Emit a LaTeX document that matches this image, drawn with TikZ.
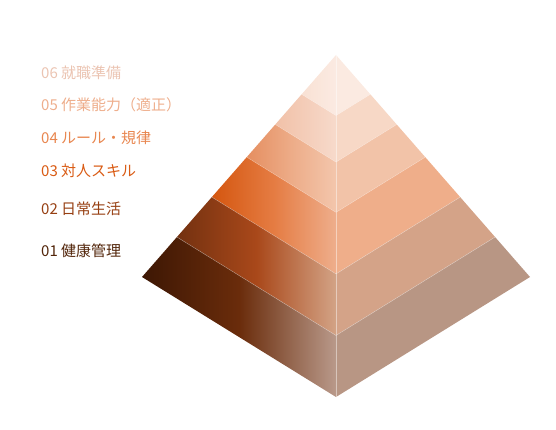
\documentclass[tikz,border=0pt]{standalone}
\usepackage{fontspec}
\newfontfamily\jpfont{Noto Sans CJK JP}
\usepackage{xcolor}
\usetikzlibrary{calc}

\definecolor{edgeA}{HTML}{3D1704}\definecolor{midA}{HTML}{6A2C0B}\definecolor{ctrA}{HTML}{B9998A}\definecolor{sideA}{HTML}{B89684}
\definecolor{edgeB}{HTML}{733110}\definecolor{midB}{HTML}{A9481A}\definecolor{ctrB}{HTML}{D3A386}\definecolor{sideB}{HTML}{D4A388}
\definecolor{edgeC}{HTML}{D4560F}\definecolor{midC}{HTML}{E57C43}\definecolor{ctrC}{HTML}{EEAE8C}\definecolor{sideC}{HTML}{EFAE8A}
\definecolor{edgeD}{HTML}{E58E60}\definecolor{midD}{HTML}{EDAC88}\definecolor{ctrD}{HTML}{F3C6AC}\definecolor{sideD}{HTML}{F2C3A8}
\definecolor{edgeE}{HTML}{F1C1A8}\definecolor{midE}{HTML}{F4CDB9}\definecolor{ctrE}{HTML}{F7DACB}\definecolor{sideE}{HTML}{F7D8C6}
\definecolor{edgeF}{HTML}{F9E1D4}\definecolor{midF}{HTML}{FAE6DB}\definecolor{ctrF}{HTML}{FBEAE2}\definecolor{sideF}{HTML}{FBEAE1}

\definecolor{txtA}{HTML}{52250A}
\definecolor{txtB}{HTML}{963F12}
\definecolor{txtC}{HTML}{D95B14}
\definecolor{txtD}{HTML}{E8864F}
\definecolor{txtE}{HTML}{EEAE8C}
\definecolor{txtF}{HTML}{EBC4B2}

\begin{document}
\begin{tikzpicture}[x=1pt,y=-1pt,
            seam/.style={draw=white, draw opacity=0.35, line width=0.5pt},
            ridge/.style={draw=white, draw opacity=0.45, line width=0.9pt},
            lab/.style={anchor=west, inner sep=0pt, font=\jpfont\fontsize{15}{17}\selectfont}]
        \useasboundingbox (0,0) rectangle (556,430);

        \coordinate (apex) at (336,55);
        \coordinate (left) at (142,277);
        \coordinate (right) at (530,277);
        \coordinate (front) at (336,397);

        % layers, top to bottom
        \foreach \ta/\tb/\c in {0/0.177/F, 0.177/0.313/E, 0.313/0.46/D, 0.46/0.64/C, 0.64/0.82/B, 0.82/1/A} {
            \shade[left color=edge\c, right color=ctr\c, middle color=mid\c]
                ($(apex)!\ta!(left)$) -- ($(apex)!\tb!(left)$) -- ($(apex)!\tb!(front)$) -- ($(apex)!\ta!(front)$) -- cycle;
            \fill[side\c]
                ($(apex)!\ta!(front)$) -- ($(apex)!\tb!(front)$) -- ($(apex)!\tb!(right)$) -- ($(apex)!\ta!(right)$) -- cycle;
        }
        \foreach \t in {0.177,0.313,0.46,0.64,0.82}
            \draw[seam] ($(apex)!\t!(left)$) -- ($(apex)!\t!(front)$) -- ($(apex)!\t!(right)$);
        \draw[ridge] (apex) -- (front);

        \node[lab, text=txtF] (lab6) at (41,73) {06 就職準備};
        \node[lab, text=txtE] (lab5) at (41,105) {05 作業能力（適正）};
        \node[lab, text=txtD] (lab4) at (41,138) {04 ルール・規律};
        \node[lab, text=txtC] (lab3) at (41,171) {03 対人スキル};
        \node[lab, text=txtB] (lab2) at (41,209) {02 日常生活};
        \node[lab, text=txtA] (lab1) at (41,251) {01 健康管理};
    \end{tikzpicture}
\end{document}
